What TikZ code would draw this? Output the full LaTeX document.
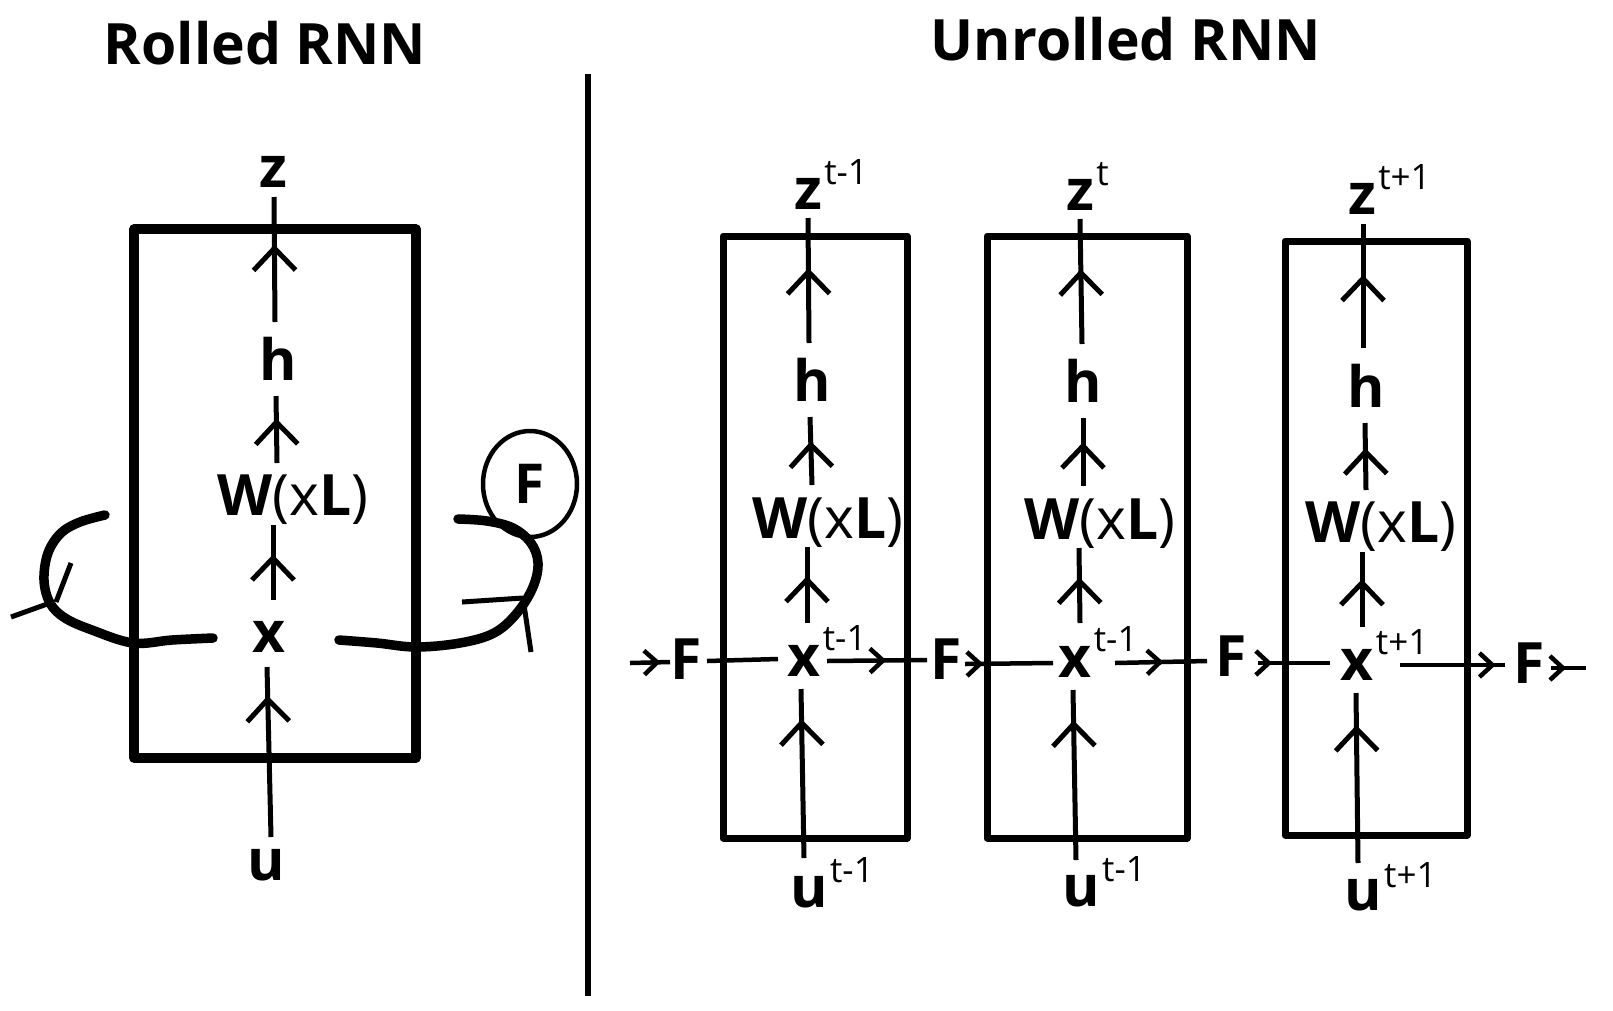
\documentclass[tikz,border=0pt]{standalone}
\usepackage{fontspec}
\setmainfont{Open Sans}
\usetikzlibrary{calc,decorations.markings,shapes.geometric}
\tikzset{
  lbl/.style={inner sep=0pt, font=\fontsize{57}{60}\selectfont\bfseries, anchor=base},
  supl/.style={inner sep=0pt, font=\fontsize{35}{38}\selectfont, anchor=base west},
  ttl/.style={inner sep=0pt, font=\fontsize{57}{62}\selectfont\bfseries, anchor=base},
  vline/.style={line width=5pt},
  hline/.style={line width=4.5pt},
  chev/.style={postaction={decorate}, decoration={markings, mark=at position #1 with {\draw[line width=5pt] (-22pt,21pt) -- (0pt,0pt) -- (-22pt,-21pt);}}},
  schev/.style={postaction={decorate}, decoration={markings, mark=at position #1 with {\draw[line width=4.5pt] (-13pt,12pt) -- (0pt,0pt) -- (-13pt,-12pt);}}},
  bigbox/.style={line width=9.5pt, line join=round},
  colbox/.style={line width=7pt, line join=round},
  loopline/.style={line width=9.5pt, line cap=round, line join=round},
  tickline/.style={line width=5pt},
}
\begin{document}
\begin{tikzpicture}[x=1pt, y=-1pt]
\fill[white] (0,0) rectangle (1613,1010);
\useasboundingbox (0,0) rectangle (1613,1010);

% titles and divider
\node[ttl] (t0) at (265,64) {Rolled RNN};
\node[ttl] (t1) at (1126,60) {Unrolled RNN};
\draw[line width=5.5pt] (588,74) -- (588,996);

% ---------- rolled ----------
\draw[bigbox] (134,229) rectangle (416,758);
\node[lbl] (z0) at (273,187) {z};
\node[lbl] (h0) at (278,380) {h};
\node[lbl] (W0) at (293,515) {W\textmd{(x}L\textmd{)}};
\node[lbl] (x0) at (269,652) {x};
\node[lbl] (u0) at (266,880) {u};
\draw[vline, chev=0.81] ($(u0.base)+(5,-43)$) -- ($(x0.base)+(-2,15)$);
\draw[vline, chev=0.56] ($(x0.base)+(4,-52)$) -- ($(W0.base)+(-20,10)$);
\draw[vline, chev=0.61] ($(W0.base)+(-16,-52)$) -- ($(h0.base)+(-2,16)$);
\draw[vline, chev=0.59] ($(h0.base)+(-3,-58)$) -- ($(z0.base)+(1,10)$);

% loops
\draw[loopline] plot[smooth, tension=0.6] coordinates {($(x0.base)+(-56,-14)$) (172,640) (133,643) (92,630) (65,618) (50,603) (44,580) (48,553) (61,533) (80,522) (105,515)};
\draw[tickline] (11,617) -- (50,603);
\draw[tickline] (56,602) -- (71,563);
\draw[loopline] plot[smooth, tension=0.6] coordinates {($(x0.base)+(70,-12)$) (377,643) (416,647) (460,643) (494,633) (517,613) (533,587) (538,563) (531,543) (513,528) (487,521) (458,519)};
\draw[tickline] (462,602) -- (523,598);
\draw[tickline] (523,598) -- (531,652);
\node[draw, ellipse, line width=4.5pt, minimum width=94pt, minimum height=106pt, inner sep=0pt, font=\fontsize{55}{60}\selectfont\bfseries] (Fl) at (530,484) {F};

% ---------- unrolled ----------
\draw[colbox] (723,236) rectangle (907,838);
\draw[colbox] (987,236) rectangle (1187,838);
\draw[colbox] (1285,241) rectangle (1467,835);

% column 1
\node[lbl] (z1) at (808,209) {z};
\node[supl] (z1s) at ($(z1.base east)+(2,-25)$) {t-1};
\node[lbl] (h1) at (812,401) {h};
\node[lbl] (W1) at (828,538) {W\textmd{(x}L\textmd{)}};
\node[lbl] (x1) at (804,676) {x};
\node[supl] (x1s) at ($(x1.base east)+(2,-26)$) {t-1};
\node[lbl] (u1) at (809,907) {u};
\node[supl] (u1s) at ($(u1.base east)+(2,-25)$) {t-1};
\draw[vline, chev=0.80] ($(u1.base)+(-5,-49)$) -- ($(x1.base)+(-3,13)$);
\draw[vline, chev=0.57] ($(x1.base)+(3,-53)$) -- ($(W1.base)+(-21,9)$);
\draw[vline, chev=0.59] ($(W1.base)+(-16,-53)$) -- ($(h1.base)+(-2,16)$);
\draw[vline, chev=0.57] ($(h1.base)+(-3,-58)$) -- ($(z1.base)+(0,9)$);

% column 2
\node[lbl] (z2) at (1080,210) {z};
\node[supl] (z2s) at ($(z2.base east)+(2,-25)$) {t};
\node[lbl] (h2) at (1083,402) {h};
\node[lbl] (W2) at (1100,539) {W\textmd{(x}L\textmd{)}};
\node[lbl] (x2) at (1075,677) {x};
\node[supl] (x2s) at ($(x2.base east)+(2,-26)$) {t-1};
\node[lbl] (u2) at (1081,906) {u};
\node[supl] (u2s) at ($(u2.base east)+(2,-25)$) {t-1};
\draw[vline, chev=0.80] ($(u2.base)+(-5,-46)$) -- ($(x2.base)+(-2,13)$);
\draw[vline, chev=0.56] ($(x2.base)+(5,-54)$) -- ($(W2.base)+(-21,9)$);
\draw[vline, chev=0.59] ($(W2.base)+(-17,-53)$) -- ($(h2.base)+(0,16)$);
\draw[vline, chev=0.57] ($(h2.base)+(-1,-58)$) -- ($(z2.base)+(0,9)$);

% column 3
\node[lbl] (z3) at (1362,214) {z};
\node[supl] (z3s) at ($(z3.base east)+(2,-25)$) {t+1};
\node[lbl] (h3) at (1366,407) {h};
\node[lbl] (W3) at (1381,542) {W\textmd{(x}L\textmd{)}};
\node[lbl] (x3) at (1357,680) {x};
\node[supl] (x3s) at ($(x3.base east)+(2,-26)$) {t+1};
\node[lbl] (u3) at (1363,910) {u};
\node[supl] (u3s) at ($(u3.base east)+(2,-23)$) {t+1};
\draw[vline, chev=0.79] ($(u3.base)+(-5,-47)$) -- ($(x3.base)+(-1,13)$);
\draw[vline, chev=0.59] ($(x3.base)+(5,-53)$) -- ($(W3.base)+(-19,10)$);
\draw[vline, chev=0.57] ($(W3.base)+(-15,-52)$) -- ($(h3.base)+(-1,16)$);
\draw[vline, chev=0.56] ($(h3.base)+(-3,-59)$) -- ($(z3.base)+(1,10)$);

% recurrent row
\coordinate (in1) at (630,663);
\coordinate (out1) at (1586,668);
\node[lbl] (F1) at (686,679) {F};
\node[lbl] (F2) at (946,679) {F};
\node[lbl] (F3) at (1231,676) {F};
\node[lbl] (F4) at (1529,683) {F};
\draw[hline, schev=0.68] (in1) -- ($(F1.base)+(-16,-17)$);
\draw[hline] ($(F1.base)+(21,-18)$) -- ($(x1.base)+(-26,-17)$);
\draw[hline, schev=0.56] ($(x1.base)+(23,-15)$) -- ($(F2.base)+(-19,-19)$);
\draw[hline, schev=0.17] ($(F2.base)+(19,-15)$) -- ($(x2.base)+(-22,-14)$);
\draw[hline, schev=0.49] ($(x2.base)+(40,-14)$) -- ($(F3.base)+(-24,-15)$);
\draw[hline, schev=0.15] ($(F3.base)+(27,-13)$) -- ($(x3.base)+(-27,-17)$);
\draw[hline, schev=0.88] ($(x3.base)+(43,-15)$) -- ($(F4.base)+(-24,-18)$);
\draw[hline, schev=0.34] ($(F4.base)+(22,-15)$) -- (out1);
\end{tikzpicture}
\end{document}
